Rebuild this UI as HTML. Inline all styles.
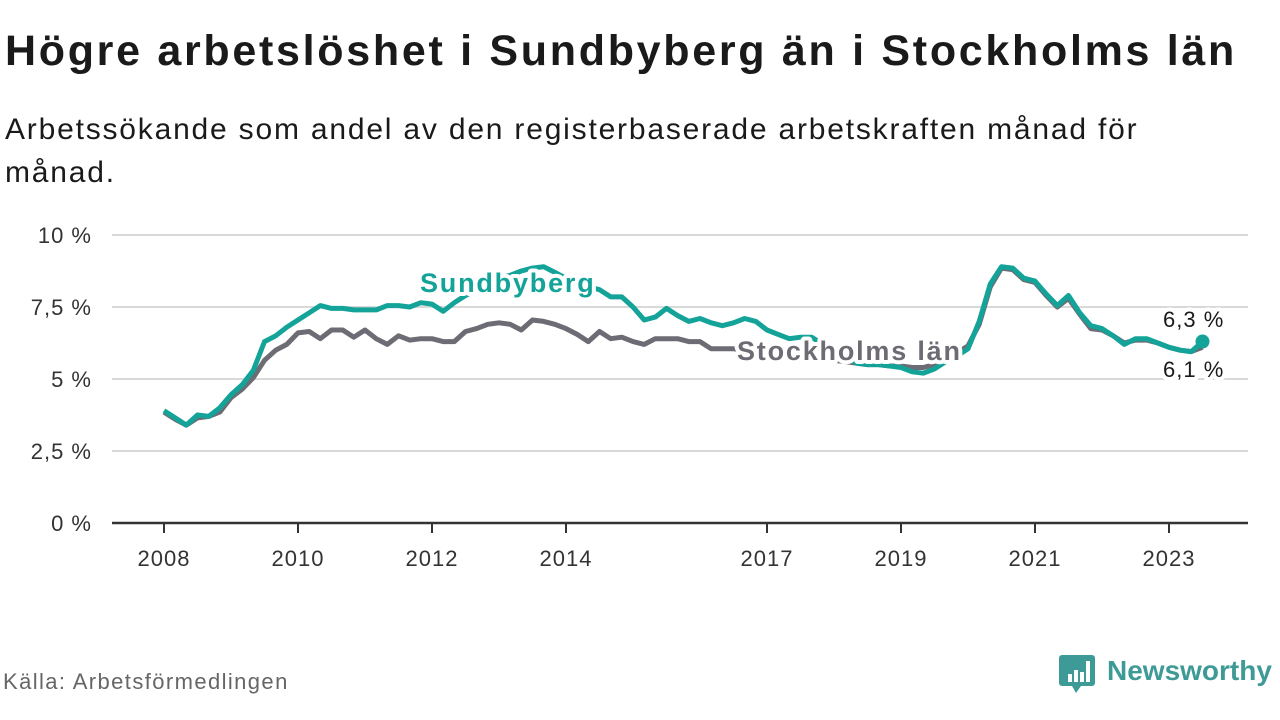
<!DOCTYPE html>
<html><head><meta charset="utf-8"><style>
body{margin:0;width:1280px;height:720px;background:#fff;font-family:"Liberation Sans",sans-serif;overflow:hidden;position:relative}
.t{position:absolute;left:5px;top:27px;font-size:43px;font-weight:bold;color:#1a1a1a;margin:0;letter-spacing:2.7px;white-space:nowrap}
.s{position:absolute;left:5px;top:108px;font-size:30px;line-height:43px;color:#1a1a1a;width:1200px;letter-spacing:1.8px}
.src{position:absolute;left:3px;top:669px;font-size:22px;color:#666;letter-spacing:1.4px}
</style></head><body>
<h1 class="t">Högre arbetslöshet i Sundbyberg än i Stockholms län</h1>
<div class="s">Arbetssökande som andel av den registerbaserade arbetskraften månad för månad.</div>
<svg id="chart" width="1280" height="720" style="position:absolute;left:0;top:0"></svg>
<div class="src">Källa: Arbetsförmedlingen</div>
<div style="position:absolute;left:1059px;top:653px;width:220px;height:40px">
<svg width="40" height="42" style="position:absolute;left:0;top:0"><path d="M3 2h30a3 3 0 0 1 3 3v25a3 3 0 0 1-3 3h-11l-5 7-4-7h-10a3 3 0 0 1-3-3v-25a3 3 0 0 1 3-3z" fill="#3e9a96"/><rect x="9" y="21" width="4" height="8" fill="#fff"/><rect x="15" y="17" width="4" height="12" fill="#fff"/><rect x="21" y="19" width="4" height="10" fill="#fff"/><rect x="27" y="8" width="4" height="21" fill="#fff"/></svg>
<span style="position:absolute;left:48px;top:2px;font-size:28px;font-weight:bold;color:#3e9a96">Newsworthy</span></div>
<script>
const yTicks=[0,2.5,5,7.5,10];
const yTickLabels=["0 %","2,5 %","5 %","7,5 %","10 %"];
const xTicks=[2008,2010,2012,2014,2017,2019,2021,2023];
const startYear=2008;
const stepYears=1/6;
const sundbyberg=[3.9,3.65,3.4,3.75,3.7,4.0,
4.45,4.8,5.3,6.3,6.5,6.8,
7.05,7.3,7.55,7.45,7.45,7.4,
7.4,7.4,7.55,7.55,7.5,7.65,
7.6,7.35,7.65,7.9,8.1,8.3,
8.5,8.6,8.75,8.85,8.9,8.7,
8.5,8.3,8.2,8.1,7.85,7.85,
7.5,7.05,7.15,7.45,7.2,7.0,
7.1,6.95,6.85,6.95,7.1,7.0,
6.7,6.55,6.4,6.45,6.45,6.2,
6.0,5.8,5.55,5.5,5.5,5.45,
5.4,5.25,5.2,5.35,5.6,5.8,
6.05,7.0,8.3,8.9,8.85,8.5,
8.4,7.95,7.55,7.9,7.3,6.85,
6.75,6.5,6.2,6.4,6.4,6.25,
6.1,6.0,5.95,6.3];
const stockholm=[3.85,3.6,3.4,3.65,3.7,3.85,
4.35,4.65,5.05,5.65,6.0,6.2,
6.6,6.65,6.4,6.7,6.7,6.45,
6.7,6.4,6.2,6.5,6.35,6.4,
6.4,6.3,6.3,6.65,6.75,6.9,
6.95,6.9,6.7,7.05,7.0,6.9,
6.75,6.55,6.3,6.65,6.4,6.45,
6.3,6.2,6.4,6.4,6.4,6.3,
6.3,6.05,6.05,6.05,6.0,5.95,
5.9,5.85,5.8,5.75,5.75,5.7,
5.65,5.6,5.55,5.5,5.5,5.45,
5.45,5.4,5.4,5.5,5.7,5.9,
6.15,6.9,8.2,8.85,8.8,8.45,
8.35,7.9,7.5,7.8,7.25,6.75,
6.7,6.5,6.25,6.35,6.35,6.25,
6.1,6.0,5.95,6.1];
const NS="http://www.w3.org/2000/svg";
const svg=document.getElementById('chart');
const X=yr=>164+67*(yr-2008);
const Y=v=>523-28.8*v;
function mk(tag,attrs,parent){const e=document.createElementNS(NS,tag);for(const k in attrs)e.setAttribute(k,attrs[k]);(parent||svg).appendChild(e);return e;}
yTicks.forEach((v,i)=>{
 if(v>0){const g=mk('line',{x1:112,x2:1248,y1:Y(v),y2:Y(v),stroke:'#d9d9d9','stroke-width':2});
 
 }
 const t=mk('text',{x:92,y:Y(v)+8,'text-anchor':'end','font-size':22,fill:'#333','letter-spacing':1});
 t.textContent=yTickLabels[i];
 
 
});
const ax=mk('line',{x1:112,x2:1248,y1:523,y2:523,stroke:'#333','stroke-width':2.5});


xTicks.forEach(yr=>{
 const tk=mk('line',{x1:X(yr),x2:X(yr),y1:523,y2:533,stroke:'#333','stroke-width':2});
 
 
 const t=mk('text',{x:X(yr),y:566,'text-anchor':'middle','font-size':22,fill:'#333','letter-spacing':1});
 t.textContent=yr;
 
 
});
function pts(arr){return arr.map((v,i)=>X(startYear+i*stepYears).toFixed(1)+','+Y(v).toFixed(1)).join(' ');}
const l1=mk('polyline',{points:pts(stockholm),fill:'none',stroke:'#6d6b73','stroke-width':5,'stroke-linejoin':'round'});


const l2=mk('polyline',{points:pts(sundbyberg),fill:'none',stroke:'#13a398','stroke-width':5,'stroke-linejoin':'round'});


const lastI=sundbyberg.length-1;
const d=mk('circle',{cx:X(startYear+lastI*stepYears),cy:Y(sundbyberg[lastI]),r:7,fill:'#13a398'});


function lbl(txt,x,y,size,color,bold,ls,name){
 const t=mk('text',{x:x,y:y,'font-size':size,fill:color,'font-weight':bold?'bold':'normal','letter-spacing':ls,stroke:'#fff','stroke-width':8,'paint-order':'stroke','stroke-linejoin':'round'});
 t.textContent=txt;
 
 
}
lbl('Sundbyberg',420,292,27,'#13a398',true,1.8,'sundbyberg-label');
lbl('Stockholms län',737,360,27,'#6d6b73',true,1.8,'stockholm-label');
lbl('6,3 %',1163,327,22,'#1a1a1a',false,1,'sundbyberg-end-value');
lbl('6,1 %',1163,377,22,'#1a1a1a',false,1,'stockholm-end-value');
</script>
</body></html>
